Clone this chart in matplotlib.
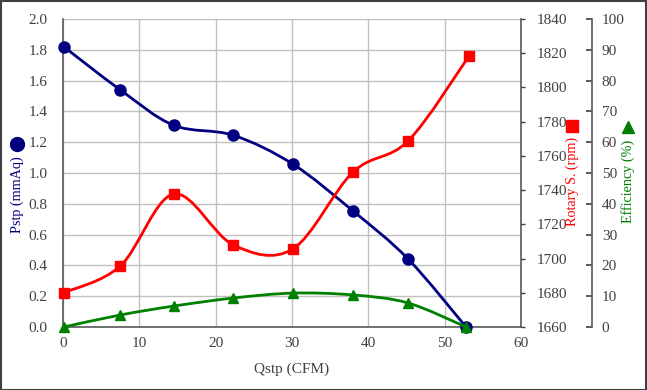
import matplotlib
matplotlib.use("Agg")
import matplotlib.pyplot as plt
from matplotlib.path import Path
from matplotlib.patches import PathPatch, Rectangle
from matplotlib.lines import Line2D
import numpy as np

plt.rcParams['font.family'] = ['Liberation Serif', 'DejaVu Serif']

# data
qstp = [0.1, 7.5, 14.5, 22.3, 30.1, 38.0, 45.2, 52.8]
pstp = [1.82, 1.54, 1.31, 1.245, 1.058, 0.753, 0.442, 0.0]
rpm_q = [0.1, 7.5, 14.5, 22.3, 30.1, 38.0, 45.2, 53.2]
rpm = [1680, 1695.6, 1737.7, 1708, 1705.6, 1750.6, 1768.7, 1818.4]
eff = [0.0, 3.9, 6.8, 9.4, 11.0, 10.4, 7.8, 0.0]

x_ticks = [0, 10, 20, 30, 40, 50, 60]
p_ticks = [0.0, 0.2, 0.4, 0.6, 0.8, 1.0, 1.2, 1.4, 1.6, 1.8, 2.0]
r_ticks = [1660, 1680, 1700, 1720, 1740, 1760, 1780, 1800, 1820, 1840]
e_ticks = [0, 10, 20, 30, 40, 50, 60, 70, 80, 90, 100]

NAVY = '#000080'
RED = '#ff0000'
GREEN = '#008000'
AXC = '#595959'
FS = 11
LFS = 10.2

W, H = 647, 390
fig = plt.figure(figsize=(W / 100, H / 100), dpi=100)

L, R, T, B = 63, 521, 19, 327
ax = fig.add_axes([L / W, (H - B) / H, (R - L) / W, (B - T) / H])
ax.set_xlim(0, 60)
ax.set_ylim(0, 2.0)
ax.set_xticks(x_ticks)
ax.set_yticks(p_ticks)
ax.set_yticklabels([f"{v:.1f}" for v in p_ticks])
ax.grid(True, color='#c0c0c0', linewidth=1.0)
ax.set_axisbelow(True)
ax.tick_params(axis='y', length=0, labelsize=FS, colors='#404040', pad=11)
ax.tick_params(axis='x', length=0, labelsize=FS, colors='#404040', pad=7)
ax.spines['top'].set_visible(False)
for s in ['left', 'bottom', 'right']:
    ax.spines[s].set_color(AXC)
    ax.spines[s].set_linewidth(1.2)
ax.set_xlabel('Qstp (CFM)', fontsize=FS, color='#404040', labelpad=9)


def smooth_path(xs, ys):
    pts = np.column_stack([xs, ys])
    n = len(pts)
    verts = [pts[0]]
    codes = [Path.MOVETO]
    for i in range(n - 1):
        p0 = pts[i - 1] if i > 0 else pts[i]
        p1 = pts[i]
        p2 = pts[i + 1]
        p3 = pts[i + 2] if i + 2 < n else pts[i + 1]
        c1 = p1 + (p2 - p0) / 6.0
        c2 = p2 - (p3 - p1) / 6.0
        verts += [c1, c2, p2]
        codes += [Path.CURVE4] * 3
    return Path(verts, codes)


# rpm axis
ax2 = ax.twinx()
ax2.set_ylim(1660, 1840)
ax2.set_yticks(r_ticks)
ax2.tick_params(axis='y', direction='out', length=3, width=1, colors='#404040', labelsize=FS, pad=8)
for s in ax2.spines.values():
    s.set_visible(False)

# efficiency axis
ax3 = ax.twinx()
ax3.set_ylim(0, 100)
ax3.set_yticks(e_ticks)
ax3.spines['right'].set_position(('axes', (592 - L) / (R - L)))
for k, s in ax3.spines.items():
    s.set_visible(k == 'right')
ax3.spines['right'].set_color(AXC)
ax3.spines['right'].set_linewidth(1.2)
ax3.tick_params(axis='y', direction='in', length=4, width=1.2, colors='#404040', labelsize=FS, pad=7)

# series
ax.add_patch(PathPatch(smooth_path(qstp, pstp), fill=False, edgecolor=NAVY, lw=2.0, clip_on=False))
ax.plot(qstp, pstp, ls='none', marker='o', ms=8, color=NAVY, clip_on=False, zorder=5)

ax2.add_patch(PathPatch(smooth_path(rpm_q, rpm), fill=False, edgecolor=RED, lw=2.0, clip_on=False))
ax2.plot(rpm_q, rpm, ls='none', marker='s', ms=7, color=RED, clip_on=False, zorder=5)

ax3.add_patch(PathPatch(smooth_path(qstp, eff), fill=False, edgecolor=GREEN, lw=2.0, clip_on=False))
ax3.plot(qstp, eff, ls='none', marker='^', ms=7.5, color=GREEN, clip_on=False, zorder=5)

# axis titles with symbols
fig.text(17 / W, 1 - 195 / H, 'Pstp (mmAq)', rotation=90, color=NAVY, fontsize=LFS, ha='center', va='center')
fig.add_artist(Line2D([17 / W], [1 - 144 / H], marker='o', ms=10, color=NAVY, transform=fig.transFigure))
fig.text(572 / W, 1 - 181 / H, 'Rotary S. (rpm)', rotation=90, color=RED, fontsize=LFS, ha='center', va='center')
fig.add_artist(Line2D([572 / W], [1 - 126 / H], marker='s', ms=9, color=RED, transform=fig.transFigure))
fig.text(628 / W, 1 - 181 / H, 'Efficiency (%)', rotation=90, color=GREEN, fontsize=LFS, ha='center', va='center')
fig.add_artist(Line2D([628 / W], [1 - 127 / H], marker='^', ms=9, color=GREEN, transform=fig.transFigure))

# outer border
fig.add_artist(Rectangle((0.5 / W, 0.5 / H), (W - 1.5) / W, (H - 1.5) / H, transform=fig.transFigure,
                         fill=False, edgecolor='#404040', lw=1.5))

fig.savefig('out.png', dpi=100)
